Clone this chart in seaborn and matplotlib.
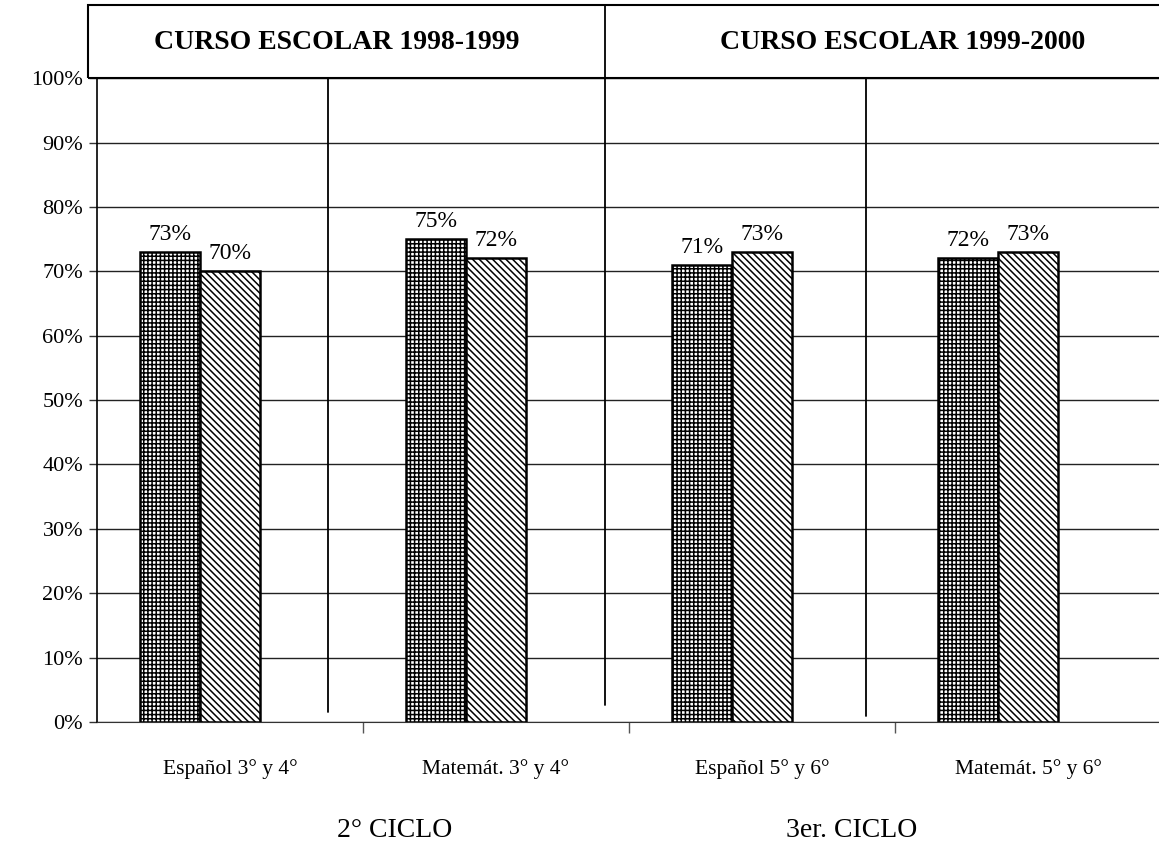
import pandas as pd
import seaborn as sns
import matplotlib.pyplot as plt
from matplotlib.patches import Rectangle
from matplotlib.ticker import FuncFormatter

# Data
materias = ['Español 3° y 4°', 'Matemát. 3° y 4°', 'Español 5° y 6°', 'Matemát. 5° y 6°']
serie_a = [73, 75, 71, 72]
serie_b = [70, 72, 73, 73]
cursos = ['CURSO ESCOLAR 1998-1999', 'CURSO ESCOLAR 1999-2000']
ciclos = ['2° CICLO', '3er. CICLO']

df = pd.DataFrame({
    'Materia': materias * 2,
    'Serie': ['A'] * 4 + ['B'] * 4,
    'Valor': serie_a + serie_b,
})

sns.set_style("white")
plt.rcParams['font.family'] = ['Liberation Serif', 'DejaVu Serif']
plt.rcParams['text.color'] = 'black'
plt.rcParams['xtick.color'] = 'black'
plt.rcParams['ytick.color'] = 'black'
plt.rcParams['hatch.linewidth'] = 1.1

fig = plt.figure(figsize=(11.59, 8.46), dpi=100)
ax = fig.add_axes([0.0837, 0.1466, 0.918, 0.761])

# third empty hue level keeps Excel-style cluster spacing
sns.barplot(data=df, x='Materia', y='Valor', hue='Serie', hue_order=['A', 'B', 'C'],
            order=materias, palette={'A': 'white', 'B': 'white', 'C': 'white'},
            width=0.68, edgecolor='black', linewidth=1.8, legend=False, ax=ax)

for bar in ax.containers[0]:
    bar.set_hatch('++++')
for bar in ax.containers[1]:
    bar.set_hatch('\\\\\\\\\\')

for cont in ax.containers[:2]:
    ax.bar_label(cont, fmt='%d%%', padding=5, fontsize=17, color='black')

ax.set_xlim(-0.5, 3.5)
ax.set_ylim(0, 100)
ax.set_yticks(range(0, 101, 10))
ax.yaxis.set_major_formatter(FuncFormatter(lambda v, p: f'{int(v)}%'))
ax.grid(axis='y', color='#222222', linewidth=1.0)
ax.set_axisbelow(True)
ax.set_xlabel('')
ax.set_ylabel('')
ax.tick_params(axis='y', length=6, width=1, color='#333333', labelsize=16, pad=4, left=True)
ax.tick_params(axis='x', which='major', length=0, labelsize=15.5, pad=27)
ax.set_xticks([0.5, 1.5, 2.5], minor=True)
ax.tick_params(axis='x', which='minor', length=8, width=1, color='#555555', bottom=True)

for side in ['top', 'right']:
    ax.spines[side].set_visible(False)
ax.spines['left'].set_color('black')
ax.spines['left'].set_linewidth(1.2)
ax.spines['bottom'].set_color('#333333')

# header box
ax.add_patch(Rectangle((-0.534, 100), 4.2, 11.3, fill=False, edgecolor='black',
                       linewidth=1.5, clip_on=False))
ax.text(0.40, 105.6, cursos[0], ha='center', va='center', fontsize=20, fontweight='bold')
ax.text(2.53, 105.6, cursos[1], ha='center', va='center', fontsize=20, fontweight='bold')

# divider lines
ax.plot([1.41, 1.41], [2.6, 111.3], color='black', linewidth=1.3, clip_on=False)
ax.plot([0.368, 0.368], [1.5, 100], color='black', linewidth=1.3, clip_on=False)
ax.plot([2.39, 2.39], [1.0, 100], color='black', linewidth=1.3, clip_on=False)

fig.text(395 / 1159, 1 - 830 / 846, ciclos[0], ha='center', va='center', fontsize=20)
fig.text(852 / 1159, 1 - 830 / 846, ciclos[1], ha='center', va='center', fontsize=20)

fig.savefig('out.png', dpi=100, facecolor='white')
